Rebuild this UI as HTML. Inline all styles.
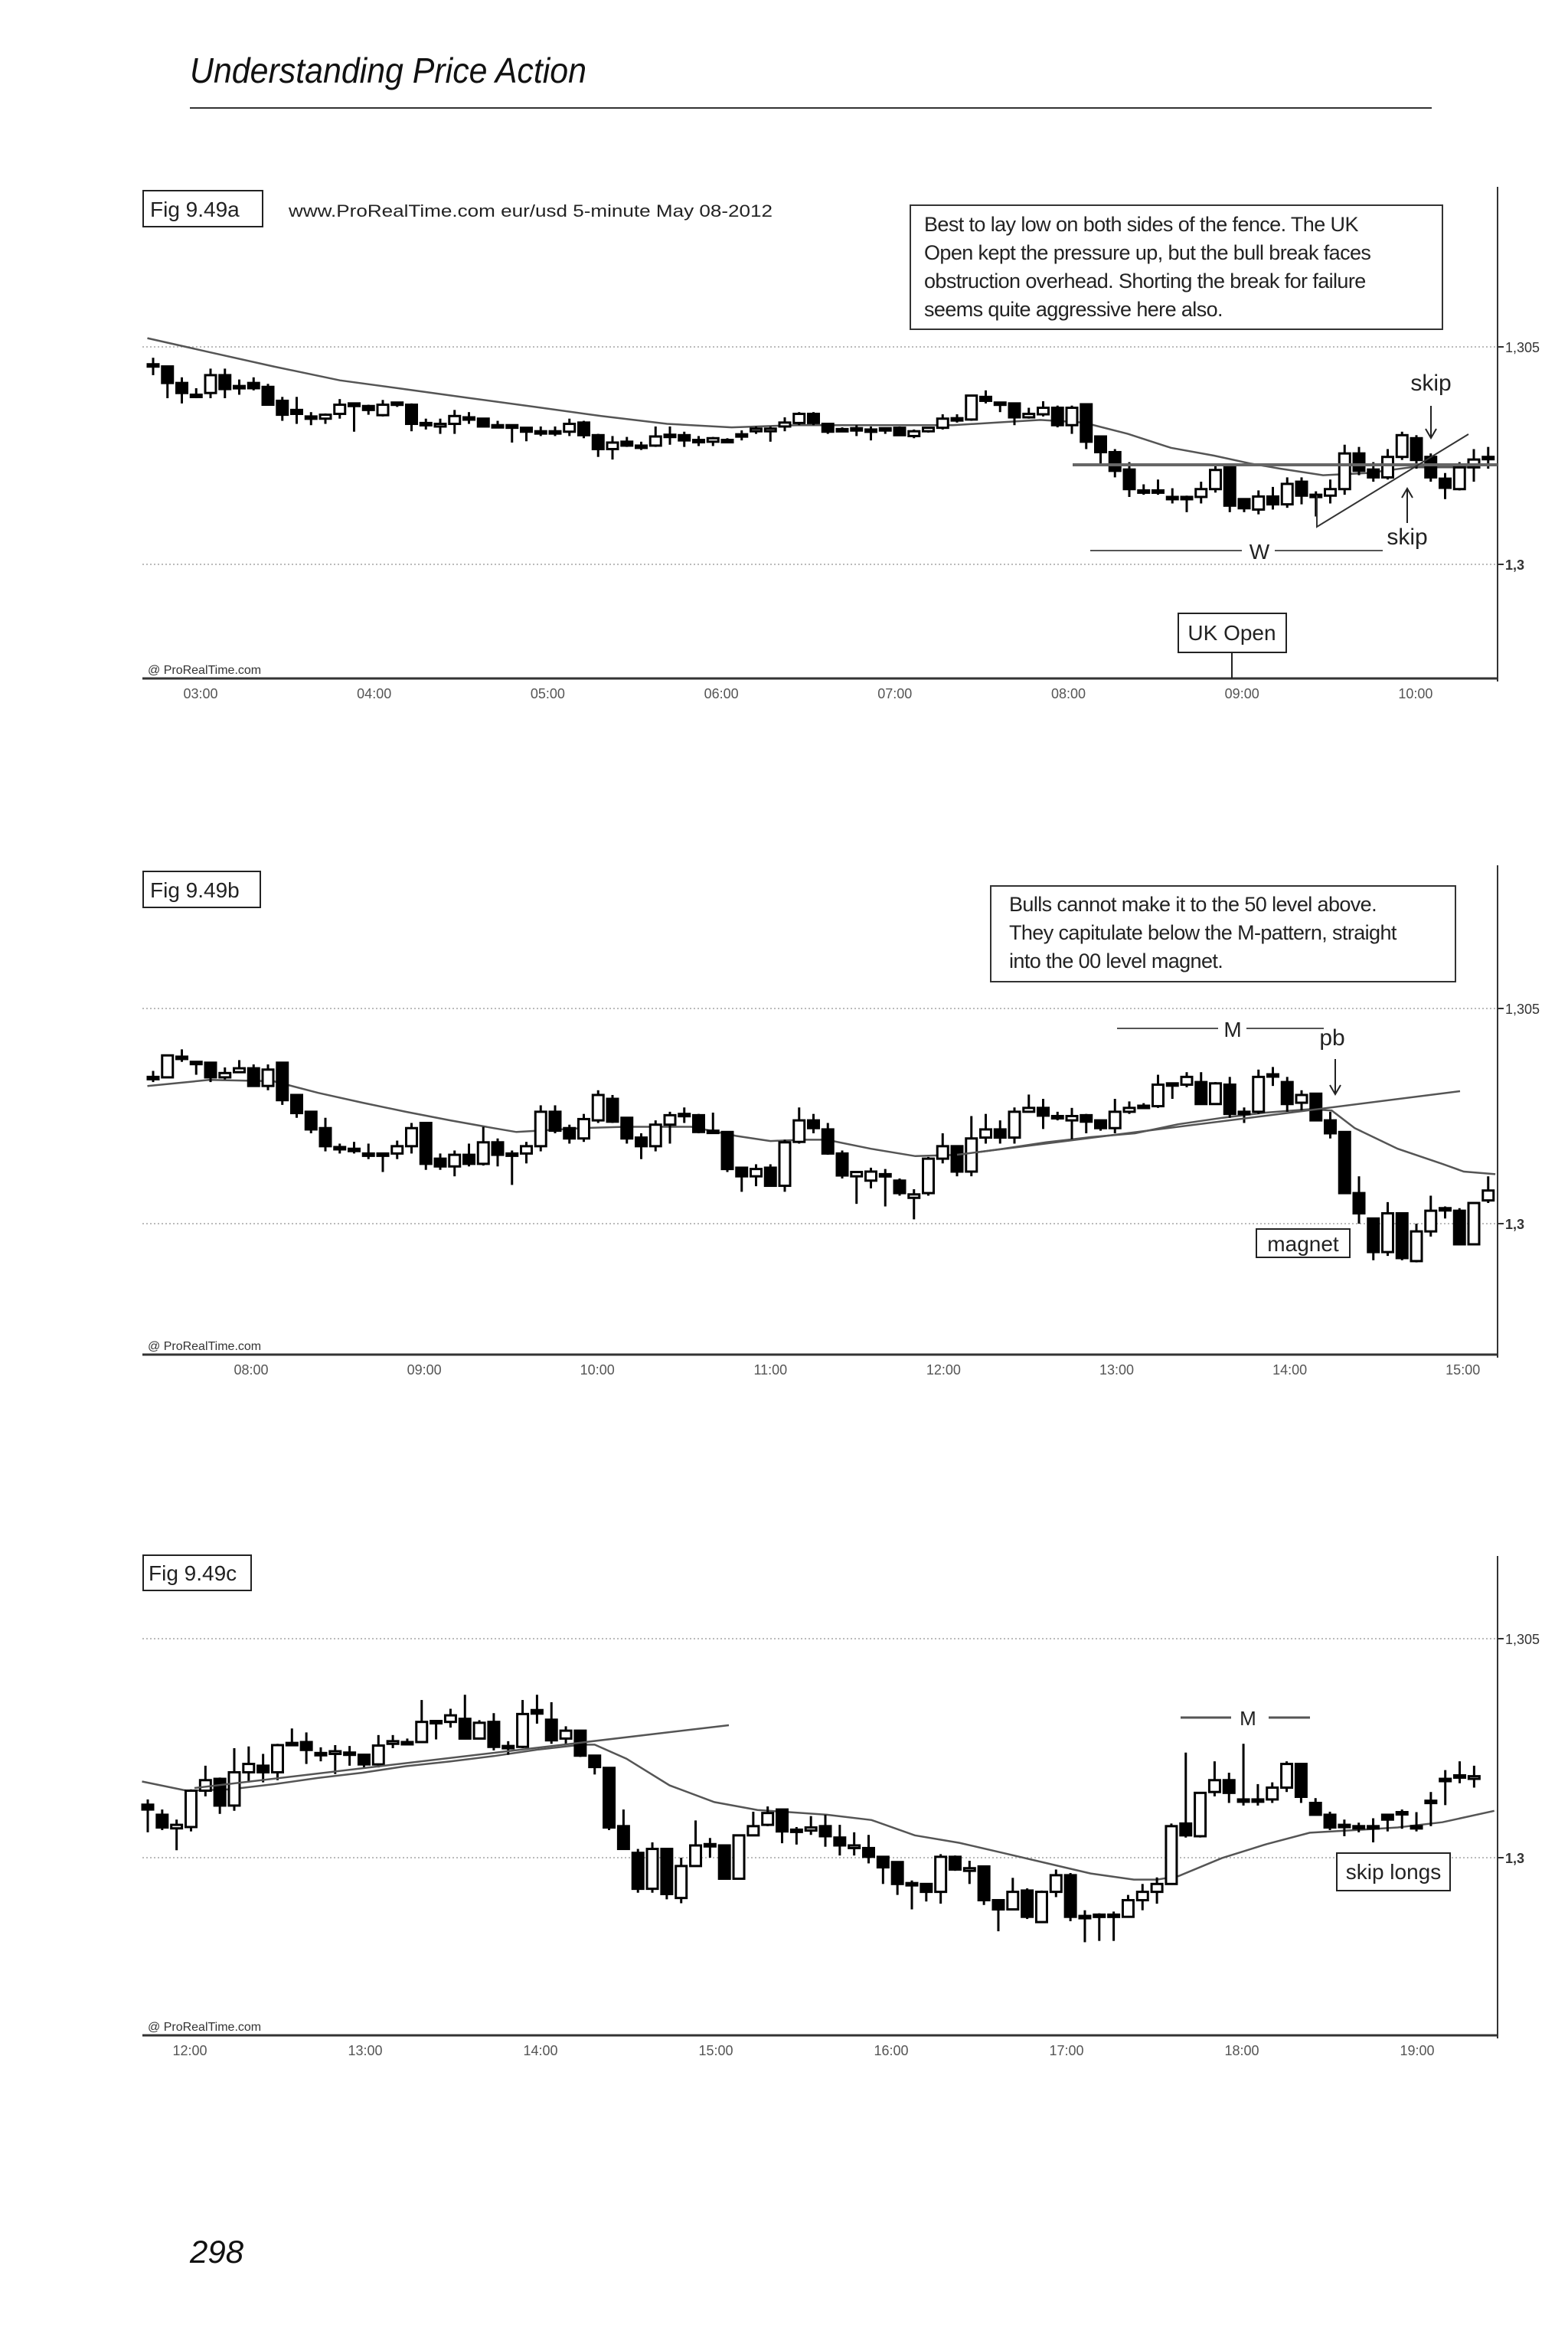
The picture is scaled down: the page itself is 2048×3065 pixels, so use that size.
<!DOCTYPE html>
<html><head><meta charset="utf-8"><style>
html,body{margin:0;padding:0;background:#fff;}
svg{display:block;}
text{font-family:"Liberation Sans",sans-serif;}
</style></head><body>
<svg id="page" width="2048" height="3065" viewBox="0 0 2048 3065" xmlns="http://www.w3.org/2000/svg">
<rect x="0" y="0" width="2048" height="3065" fill="#fff"/>
<text x="248" y="108" font-size="46" font-style="italic" fill="#111" textLength="518" lengthAdjust="spacingAndGlyphs">Understanding Price Action</text>
<line x1="248" y1="141" x2="1870" y2="141" stroke="#333" stroke-width="2"/>
<text x="248" y="2955" font-size="42" font-style="italic" fill="#111">298</text>

<g>
<rect x="187" y="249" width="156" height="47" fill="none" stroke="#222" stroke-width="2"/>
<text x="196" y="283" font-size="28" fill="#222">Fig 9.49a</text>
<text x="377" y="283" font-size="22" fill="#222" textLength="632" lengthAdjust="spacingAndGlyphs">www.ProRealTime.com     eur/usd  5-minute  May 08-2012</text>
<rect x="1189" y="268" width="695" height="162" fill="#fff" stroke="#333" stroke-width="2"/>
<text font-size="27" fill="#222" letter-spacing="-0.6">
<tspan x="1207" y="302">Best to lay low on both sides of the fence. The UK</tspan>
<tspan x="1207" y="339">Open kept the pressure up, but the bull break faces</tspan>
<tspan x="1207" y="376">obstruction overhead. Shorting the break for failure</tspan>
<tspan x="1207" y="413">seems quite aggressive here also.</tspan></text>
</g>

<g>
<rect x="187" y="1138" width="153" height="47" fill="none" stroke="#222" stroke-width="2"/>
<text x="196" y="1172" font-size="28" fill="#222">Fig 9.49b</text>
<rect x="1294" y="1157" width="607" height="125" fill="#fff" stroke="#333" stroke-width="2"/>
<text font-size="27" fill="#222" letter-spacing="-0.6">
<tspan x="1318" y="1190">Bulls cannot make it to the 50 level above.</tspan>
<tspan x="1318" y="1227">They capitulate below the M-pattern, straight</tspan>
<tspan x="1318" y="1264">into the 00 level magnet.</tspan></text>
</g>

<g>
<rect x="187" y="2031" width="141" height="46" fill="none" stroke="#222" stroke-width="2"/>
<text x="194" y="2064" font-size="28" fill="#222">Fig 9.49c</text>
</g>
<g id="dyn"></g>
</svg>
<script>
const openA  = [4.6,4.55,4.17,3.9,3.94,4.35,4.1,4.17,4.08,3.76,3.55,3.4,3.35,3.46,3.7,3.64,3.43,3.72,3.67,3.25,3.17,3.23,3.38,3.35,3.2,3.2,3.14,3.06,3.06,3.05,3.26,2.97,2.65,2.82,2.72,2.73,2.98,2.97,2.86,2.82,2.86,2.97,3.06,3.06,3.17,3.25,3.46,3.23,3.11,3.13,3.1,3.13,3.14,2.95,3.06,3.14,3.35,3.33,3.85,3.72,3.7,3.38,3.45,3.6,3.2,3.68,2.94,2.58,2.18,1.7,1.7,1.55,1.55,1.55,1.73,2.26,1.5,1.26,1.56,1.38,1.9,1.6,1.58,1.73,2.55,2.18,2.0,2.47,2.9,2.47,1.97,1.73,2.23,2.47];
const highA  = [4.75,4.55,4.3,4.05,4.5,4.5,4.25,4.3,4.15,3.85,3.85,3.5,3.47,3.8,3.72,3.67,3.78,3.74,3.7,3.35,3.35,3.55,3.5,3.37,3.3,3.22,3.16,3.17,3.17,3.35,3.3,3.0,2.95,2.93,2.82,3.17,3.17,3.05,2.95,2.93,2.9,3.08,3.17,3.17,3.38,3.5,3.5,3.25,3.15,3.2,3.17,3.15,3.17,3.1,3.15,3.45,3.45,3.9,4.0,3.74,3.7,3.6,3.75,3.65,3.65,3.7,2.95,2.65,2.35,1.84,1.95,1.75,1.58,1.9,2.3,2.28,1.5,1.7,1.78,2.0,2.0,1.68,1.95,2.75,2.7,2.35,2.65,3.05,2.97,2.55,2.1,2.35,2.65,2.7];
const lowA   = [4.35,3.82,3.7,3.82,3.82,3.82,3.9,4.0,3.65,3.3,3.23,3.2,3.23,3.35,3.05,3.44,3.4,3.62,3.06,3.1,3.0,3.0,3.23,3.15,3.15,2.8,2.83,2.95,2.95,2.95,2.9,2.47,2.41,2.7,2.63,2.7,2.75,2.7,2.72,2.72,2.82,2.85,3.0,2.82,3.06,3.2,3.2,3.0,3.05,2.95,2.85,3.0,2.95,2.9,3.03,3.1,3.26,3.3,3.7,3.5,3.2,3.35,3.4,3.15,3.0,2.65,2.3,2.0,1.55,1.6,1.6,1.4,1.2,1.4,1.65,1.2,1.2,1.15,1.26,1.3,1.38,1.1,1.4,1.6,2.05,1.9,1.95,2.4,2.2,1.9,1.5,1.7,1.9,2.2];
const closeA = [4.6,4.17,3.94,3.88,4.35,4.03,4.05,4.05,3.67,3.44,3.46,3.37,3.44,3.67,3.64,3.55,3.67,3.67,3.23,3.23,3.23,3.41,3.36,3.17,3.18,3.14,3.05,3.05,3.05,3.23,2.97,2.65,2.8,2.73,2.73,2.94,2.97,2.85,2.85,2.9,2.86,2.99,3.12,3.12,3.26,3.46,3.25,3.05,3.1,3.12,3.1,3.13,2.97,3.06,3.14,3.35,3.36,3.88,3.76,3.72,3.38,3.46,3.6,3.2,3.6,2.82,2.58,2.15,1.73,1.7,1.7,1.55,1.55,1.73,2.17,1.35,1.29,1.56,1.38,1.85,1.58,1.6,1.73,2.55,2.15,2.0,2.47,2.97,2.4,2.0,1.76,2.23,2.41,2.47];
const maIdxA = [-0.4,3.9,8.4,13,17.5,22.1,26.6,31.2,35.8,40.3,44.9,55.7,58.8,61.8,64.8,67.9,70.9,73.9,76.4,78.5,81.5,84.6,87.6,92.2];
const maValA = [5.2,4.88,4.55,4.23,4.03,3.82,3.62,3.41,3.23,3.15,3.2,3.2,3.26,3.32,3.26,3.0,2.68,2.5,2.32,2.2,2.05,2.1,2.23,2.23];
const timeLabelsA = ["03:00","04:00","05:00","06:00","07:00","08:00","09:00","10:00"];
const timeHoursA = [3,4,5,6,7,8,9,10];

const openB  = [3.41,3.4,3.88,3.76,3.74,3.4,3.52,3.61,3.2,3.74,2.99,2.6,2.22,1.78,1.74,1.63,1.63,1.63,1.8,2.34,1.51,1.33,1.6,1.39,1.89,1.63,1.63,1.8,2.6,2.22,1.98,2.4,2.9,2.46,2.0,1.8,2.3,2.55,2.52,2.16,2.13,1.3,1.1,1.3,0.88,1.9,2.4,2.19,1.63,1.1,1.0,1.15,1.0,0.6,0.71,1.51,1.8,1.21,2.0,2.19,2.0,2.6,2.69,2.5,2.4,2.52,2.4,2.22,2.6,2.74,2.73,3.26,3.23,3.29,2.78,3.23,2.6,2.6,3.47,3.29,2.81,3.02,2.4,2.13,0.71,0.12,-0.66,0.24,-0.87,-0.18,0.36,0.3,-0.48,0.54];
const highB  = [3.55,3.91,4.05,3.78,3.76,3.63,3.8,3.7,3.7,3.76,3.0,2.6,2.46,1.86,1.9,1.86,1.65,1.93,2.34,2.36,1.63,1.7,1.86,2.25,1.98,1.7,1.9,2.75,2.75,2.3,2.55,3.1,2.99,2.46,2.1,2.4,2.6,2.7,2.55,2.58,2.13,1.3,1.38,1.38,1.95,2.7,2.55,2.34,1.7,1.2,1.3,1.27,1.05,0.8,1.55,2.1,1.8,2.5,2.55,2.4,2.7,3.0,2.9,2.6,2.69,2.55,2.4,2.9,2.84,2.8,3.46,3.28,3.52,3.52,3.29,3.41,2.7,3.58,3.64,3.41,3.1,3.02,2.6,2.13,1.1,0.12,0.5,0.24,0.0,0.65,0.4,0.36,0.5,1.1];
const lowB   = [3.29,3.4,3.76,3.46,3.29,3.35,3.5,3.2,3.1,2.76,2.46,2.1,1.68,1.63,1.63,1.5,1.2,1.5,1.63,1.25,1.25,1.1,1.33,1.35,1.33,0.9,1.4,1.68,2.1,1.86,1.9,2.34,2.34,1.86,1.5,1.68,1.86,2.34,2.1,2.1,1.2,0.74,0.87,0.88,0.74,1.86,2.1,1.6,1.05,0.46,0.82,0.4,0.65,0.1,0.65,1.4,1.1,1.1,1.86,1.86,1.86,2.6,2.2,2.4,1.95,2.1,2.16,2.1,2.55,2.69,2.69,2.9,3.17,2.78,2.78,2.46,2.34,2.55,3.2,2.6,2.6,2.4,1.98,0.71,0.0,-0.85,-0.75,-0.85,-0.9,-0.3,0.12,-0.5,-0.48,0.48];
const closeB = [3.41,3.91,3.85,3.76,3.4,3.5,3.61,3.2,3.58,2.87,2.57,2.19,1.8,1.76,1.74,1.63,1.63,1.8,2.22,1.39,1.33,1.6,1.39,1.89,1.6,1.63,1.8,2.6,2.16,1.98,2.43,2.99,2.37,1.98,1.8,2.3,2.52,2.55,2.13,2.16,1.27,1.1,1.27,0.88,1.89,2.4,2.22,1.63,1.12,1.2,1.21,1.15,0.71,0.68,1.51,1.8,1.21,1.98,2.19,2.0,2.6,2.69,2.51,2.49,2.5,2.37,2.22,2.6,2.69,2.74,3.23,3.26,3.41,2.78,3.26,2.55,2.6,3.41,3.47,2.78,2.99,2.4,2.1,0.71,0.24,-0.66,0.24,-0.8,-0.18,0.3,0.36,-0.48,0.48,0.77];
const maIdxB = [-0.4,3.9,8.4,11.5,14.6,17.6,20.7,23.7,25.3,26.8,29.9,32.9,37.5,40.6,43.0,45.2,46.9,50.0,53.1,56.1,59.2,62.2,65.3,68.4,71.4,74.5,77.5,80.6,82.1,83.7,86.7,89.8,91.3,93.5];
const maValB = [3.2,3.34,3.31,3.04,2.81,2.6,2.4,2.22,2.13,2.16,2.22,2.25,2.25,2.04,1.92,1.95,1.95,1.74,1.57,1.6,1.74,1.89,2.01,2.1,2.31,2.46,2.58,2.66,2.63,2.22,1.74,1.39,1.21,1.15];
const timeLabelsB = ["08:00","09:00","10:00","11:00","12:00","13:00","14:00","15:00"];
const timeHoursB = [8,9,10,11,12,13,14,15];

const openC  = [1.21,0.98,0.67,0.7,1.53,1.8,1.19,1.95,2.1,1.95,2.57,2.64,2.39,2.37,2.4,2.35,2.13,2.6,2.64,2.64,3.12,3.1,3.17,2.72,3.1,2.55,2.53,3.37,3.15,2.72,2.9,2.33,2.05,0.72,0.11,-0.71,0.2,-0.92,-0.19,0.31,0.28,-0.48,0.51,0.75,1.1,0.64,0.62,0.72,0.46,0.22,0.22,0.02,-0.1,-0.58,-0.6,-0.78,0.02,-0.3,-0.2,-0.97,-1.18,-0.75,-1.47,-0.78,-0.4,-1.33,-1.3,-1.3,-1.35,-0.97,-0.78,-0.6,0.78,0.49,1.5,1.77,1.33,1.33,1.33,1.6,2.14,1.25,0.98,0.75,0.72,0.72,0.98,1.02,0.72,1.3,1.8,1.86,1.8];
const highC  = [1.33,1.1,0.87,1.56,2.1,1.83,2.5,2.54,2.37,2.6,2.95,2.86,2.52,2.57,2.55,2.37,2.8,2.8,2.72,3.6,3.14,3.4,3.72,3.14,3.3,2.66,3.6,3.72,3.55,3.0,2.9,2.33,2.05,1.1,0.2,0.35,0.2,0.0,0.85,0.45,0.28,0.52,1.05,1.17,1.1,0.7,0.95,0.98,0.75,0.58,0.52,0.02,-0.1,-0.52,-0.6,0.08,0.05,-0.07,-0.2,-0.97,-0.46,-0.7,-0.75,-0.27,-0.35,-1.2,-1.27,-1.23,-0.85,-0.6,-0.45,0.78,2.4,1.5,2.2,1.94,2.6,1.68,1.72,2.2,2.14,1.36,1.05,0.87,0.8,0.9,0.9,1.1,1.04,1.5,2.0,2.2,2.1,2.2];
const lowC   = [0.58,0.63,0.17,0.6,1.4,1.0,1.07,1.72,1.72,1.77,2.57,2.14,2.2,1.91,2.1,2.04,2.06,2.5,2.57,2.62,2.7,2.97,2.7,2.7,2.45,2.35,2.5,3.06,2.6,2.6,2.3,1.9,0.63,0.2,-0.8,-0.8,-0.95,-1.04,-0.2,0.0,-0.48,-0.48,0.49,0.72,0.33,0.3,0.52,0.25,0.05,0.05,-0.13,-0.6,-0.85,-1.18,-1.0,-1.05,-0.3,-0.6,-1.08,-1.68,-1.2,-1.4,-1.47,-0.9,-1.45,-1.93,-1.9,-1.9,-1.35,-1.2,-1.05,-0.6,0.46,0.46,1.4,1.25,1.19,1.19,1.25,1.5,1.25,0.98,0.63,0.49,0.58,0.35,0.6,0.66,0.6,0.72,1.2,1.7,1.6,1.72];
const closeC = [1.1,0.69,0.75,1.53,1.77,1.19,1.95,2.14,1.95,2.57,2.62,2.46,2.39,2.43,2.4,2.13,2.56,2.66,2.64,3.1,3.12,3.25,2.72,3.08,2.53,2.55,3.28,3.29,2.68,2.9,2.33,2.07,0.69,0.2,-0.71,0.2,-0.83,-0.19,0.28,0.31,-0.48,0.51,0.72,1.02,0.6,0.64,0.69,0.49,0.28,0.28,0.02,-0.22,-0.6,-0.58,-0.78,0.02,-0.27,-0.24,-0.97,-1.18,-0.78,-1.35,-0.78,-0.4,-1.35,-1.33,-1.3,-1.3,-0.97,-0.78,-0.6,0.72,0.51,1.48,1.77,1.48,1.33,1.33,1.6,2.14,1.39,0.98,0.69,0.75,0.72,0.72,0.87,1.04,0.72,1.3,1.8,1.88,1.86,2.14];
const maIdxC = [-0.4,2.7,5.7,8.8,11.8,14.9,17.9,21,24,27.1,30.1,31,33.2,36.2,39.3,42.3,47.1,50.2,53.2,56.3,59.3,62.4,65.4,68.4,70,71.5,74.5,77.6,80.6,83.7,86.7,89.8,93.4];
const maValC = [1.74,1.53,1.56,1.68,1.82,1.94,2.09,2.2,2.32,2.47,2.58,2.58,2.26,1.65,1.27,1.09,0.98,0.86,0.51,0.34,0.11,-0.13,-0.36,-0.5,-0.5,-0.42,-0.01,0.31,0.57,0.63,0.69,0.81,1.07];
const timeLabelsC = ["12:00","13:00","14:00","15:00","16:00","17:00","18:00","19:00"];
const timeHoursC = [12,13,14,15,16,17,18,19];

const priceLabels = ["1,305","1,3"];
const priceLevels = [5,0];

const NS = "http://www.w3.org/2000/svg";
const root = document.getElementById('dyn');
function mk(tag, attrs, parent){
  const e = document.createElementNS(NS, tag);
  for (const k in attrs) e.setAttribute(k, attrs[k]);
  (parent||root).appendChild(e);
  return e;
}

function drawChart(cfg){
  const g = mk('g', {});
  
  
  const y = p => cfg.y0 - p * cfg.ppp;
  const xb = i => cfg.x0 + i * cfg.step;
  const xt = h => cfg.tx0 + (h - cfg.th0) * cfg.tstep;
  priceLevels.forEach((lv, k) => {
    const gl = mk('line', {x1:186, x2:1956, y1:y(lv), y2:y(lv), stroke:'#bbb', 'stroke-width':2, 'stroke-dasharray':'2 3'}, g);
    
    
    const tk = mk('line', {x1:1956, x2:1964, y1:y(lv), y2:y(lv), stroke:'#333', 'stroke-width':2}, g);
    
    
    const t = mk('text', {x:1966, y:y(lv)+7, 'font-size':18, fill:'#333', 'font-weight': k===1?'bold':'normal'}, g);
    t.textContent = priceLabels[k];
    
    
  });
  const ra = mk('line', {x1:1956, x2:1956, y1:cfg.top, y2:cfg.bottom+4, stroke:'#333', 'stroke-width':2}, g);
  
  
  const ba = mk('line', {x1:186, x2:1956, y1:cfg.bottom, y2:cfg.bottom, stroke:'#333', 'stroke-width':3}, g);
  
  
  const src = mk('text', {x:193, y:cfg.bottom-6, 'font-size':16, fill:'#333'}, g);
  src.textContent = '@ ProRealTime.com';
  
  
  cfg.hours.forEach((h, k) => {
    const t = mk('text', {x:xt(h), y:cfg.bottom+26, 'font-size':18, fill:'#555', 'text-anchor':'middle'}, g);
    t.textContent = cfg.labels[k];
    
    
  });
  let d = '';
  cfg.maIdx.forEach((ix, k) => { d += (k ? 'L' : 'M') + xb(ix).toFixed(1) + ' ' + y(cfg.maVal[k]).toFixed(1); });
  const ma = mk('path', {d:d, fill:'none', stroke:'#555', 'stroke-width':2.5}, g);
  
  
  cfg.o.forEach((o, i) => {
    const c = cfg.c[i], h = cfg.h[i], l = cfg.l[i];
    const cx = xb(i);
    const cg = mk('g', {}, g);
    
    
    mk('line', {x1:cx, x2:cx, y1:y(h), y2:y(l), stroke:'#000', 'stroke-width':3}, cg);
    const top = y(Math.max(o, c)), bot = y(Math.min(o, c));
    const hgt = Math.max(bot - top, 3);
    mk('rect', {x:cx-7, y:top, width:14, height:hgt, fill: c < o ? '#000' : '#fff', stroke:'#000', 'stroke-width':3}, cg);
  });
}

drawChart({name:'candles-chart-a', o:openA, h:highA, l:lowA, c:closeA, maIdx:maIdxA, maVal:maValA,
  labels:timeLabelsA, hours:timeHoursA, y0:737, ppp:56.8, x0:200, step:18.75, tx0:262, th0:3, tstep:226.7, top:244, bottom:886});
drawChart({name:'candles-chart-b', o:openB, h:highB, l:lowB, c:closeB, maIdx:maIdxB, maVal:maValB,
  labels:timeLabelsB, hours:timeHoursB, y0:1598, ppp:56.2, x0:200, step:18.75, tx0:328, th0:8, tstep:226.1, top:1130, bottom:1769});
drawChart({name:'candles-chart-c', o:openC, h:highC, l:lowC, c:closeC, maIdx:maIdxC, maVal:maValC,
  labels:timeLabelsC, hours:timeHoursC, y0:2426, ppp:57.2, x0:193, step:18.83, tx0:248, th0:12, tstep:229, top:2032, bottom:2658});

function ann(tag, attrs, name){ const e = mk(tag, attrs);   return e; }
function txt(x, yy, s, size, name){ const t = ann('text', {x:x, y:yy, 'font-size':size, fill:'#222', 'text-anchor':'middle'}, name); t.textContent = s; return t; }
ann('line', {x1:1401, x2:1956, y1:607, y2:607, stroke:'#666', 'stroke-width':4}, 'support-line-a');
ann('polyline', {points:'1720,647 1720,688 1918,567', fill:'none', stroke:'#333', 'stroke-width':2}, 'trend-line-a');
ann('line', {x1:1424, x2:1622, y1:719, y2:719, stroke:'#555', 'stroke-width':2}, 'w-line-left');
ann('line', {x1:1665, x2:1806, y1:719, y2:719, stroke:'#555', 'stroke-width':2}, 'w-line-right');
txt(1645, 730, 'W', 28, 'w-pattern-label');
txt(1869, 510, 'skip', 30, 'skip-label-top');
ann('path', {d:'M1869 530 L1869 570 M1862 560 L1869 572 L1876 560', fill:'none', stroke:'#222', 'stroke-width':2}, 'skip-arrow-top');
txt(1838, 711, 'skip', 30, 'skip-label-bottom');
ann('path', {d:'M1838 683 L1838 640 M1831 650 L1838 638 L1845 650', fill:'none', stroke:'#222', 'stroke-width':2}, 'skip-arrow-bottom');
ann('rect', {x:1539, y:801, width:141, height:51, fill:'#fff', stroke:'#222', 'stroke-width':2}, 'uk-open-box');
txt(1609, 836, 'UK Open', 28, 'uk-open-label');
ann('line', {x1:1609, x2:1609, y1:852, y2:886, stroke:'#222', 'stroke-width':2}, 'uk-open-marker');
ann('line', {x1:1250, x2:1907, y1:1508, y2:1425, stroke:'#555', 'stroke-width':2.5}, 'trend-line-b');
ann('line', {x1:1459, x2:1591, y1:1343, y2:1343, stroke:'#555', 'stroke-width':2}, 'm-line-left-b');
ann('line', {x1:1628, x2:1729, y1:1343, y2:1343, stroke:'#555', 'stroke-width':2}, 'm-line-right-b');
txt(1610, 1354, 'M', 28, 'm-pattern-label-b');
txt(1740, 1365, 'pb', 30, 'pullback-label');
ann('path', {d:'M1744 1383 L1744 1427 M1737 1417 L1744 1429 L1751 1417', fill:'none', stroke:'#222', 'stroke-width':2}, 'pullback-arrow');
ann('rect', {x:1641, y:1605, width:122, height:37, fill:'#fff', stroke:'#222', 'stroke-width':2}, 'magnet-box');
txt(1702, 1634, 'magnet', 28, 'magnet-label');
ann('line', {x1:254, x2:952, y1:2335, y2:2253, stroke:'#555', 'stroke-width':2.5}, 'trend-line-c');
ann('line', {x1:1542, x2:1608, y1:2243, y2:2243, stroke:'#555', 'stroke-width':3}, 'm-line-left-c');
ann('line', {x1:1657, x2:1711, y1:2243, y2:2243, stroke:'#555', 'stroke-width':3}, 'm-line-right-c');
txt(1630, 2253, 'M', 26, 'm-pattern-label-c');
ann('rect', {x:1746, y:2420, width:148, height:49, fill:'#fff', stroke:'#222', 'stroke-width':2}, 'skip-longs-box');
txt(1820, 2454, 'skip longs', 28, 'skip-longs-label');
</script>
</body></html>
